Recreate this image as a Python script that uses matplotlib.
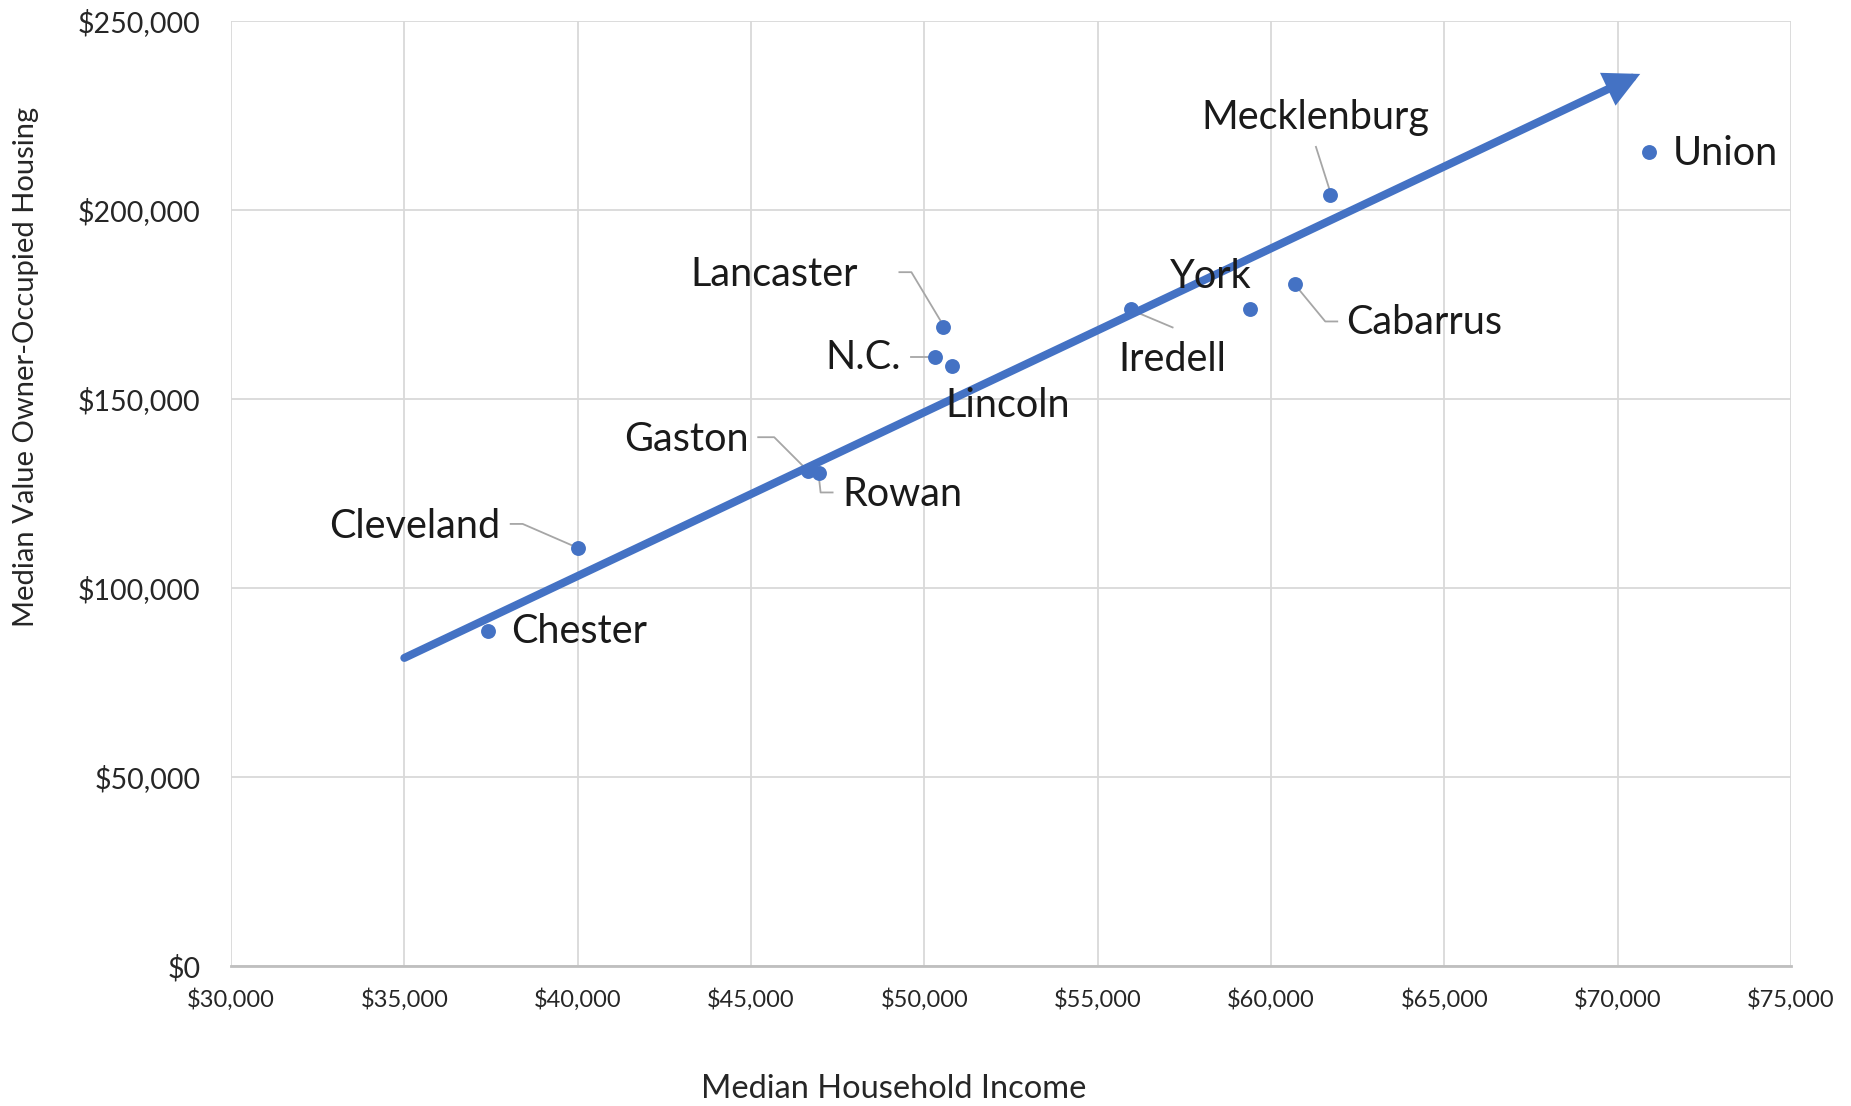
import matplotlib
matplotlib.use("Agg")
import matplotlib.pyplot as plt
import matplotlib.transforms as mtransforms
from matplotlib.ticker import FuncFormatter, MultipleLocator

plt.rcParams['font.family'] = ['Lato', 'DejaVu Sans']

# county data: median household income vs median owner-occupied home value
counties = ['Chester', 'Cleveland', 'Gaston', 'Rowan', 'N.C.', 'Lancaster', 'Lincoln',
            'Iredell', 'York', 'Cabarrus', 'Mecklenburg', 'Union']
income = [37400, 40000, 46650, 46950, 50300, 50550, 50800, 55950, 59400, 60700, 61700, 70900]
home_value = [88700, 110600, 130900, 130300, 161200, 169000, 158700, 173700, 173700, 180300,
              204000, 215300]

# trend arrow ends (income, home value)
trend_start = (35000, 81500)
trend_end = (70650, 236000)

blue = '#4472C4'
leader_grey = '#A6A6A6'
text_col = '#262626'

# label placement in pixels relative to each point: (dx, dy, ha, leader vertices)
label_style = {
    'Mecklenburg': (-15, 77, 'center', [(-14, 48), (0, 4)]),
    'Union': (24, -1, 'left', None),
    'Lancaster': (-86, 53, 'right', [(-44, 55), (-32, 55), (-2, 5)]),
    'York': (-39, 33, 'center', None),
    'Cabarrus': (51, -38, 'left', [(2, -3), (30, -37), (42, -37)]),
    'Iredell': (42, -50, 'center', [(4, -2), (42, -18)]),
    'N.C.': (-34, -1, 'right', [(-24, 0), (-4, 0)]),
    'Lincoln': (-7, -39, 'left', None),
    'Gaston': (-59, 32, 'right', [(-50, 34), (-34, 34), (-2, 2)]),
    'Rowan': (24, -21, 'left', [(0, -1), (2, -19), (14, -19)]),
    'Cleveland': (-77, 21, 'right', [(-67, 24), (-55, 24), (-2, 1)]),
    'Chester': (24, -1, 'left', None),
}

fig = plt.figure(figsize=(18.51, 11.06), dpi=100)
ax = fig.add_axes([231 / 1851, 1 - 966 / 1106, 1560 / 1851, 945 / 1106])

ax.set_xlim(30000, 75000)
ax.set_ylim(0, 250000)
ax.xaxis.set_major_locator(MultipleLocator(5000))
ax.yaxis.set_major_locator(MultipleLocator(50000))
money = FuncFormatter(lambda v, p: '${:,.0f}'.format(v))
ax.xaxis.set_major_formatter(money)
ax.yaxis.set_major_formatter(money)

ax.grid(True, color='#D9D9D9', lw=1.3)
ax.set_axisbelow(True)
for s in ['left', 'right', 'top']:
    ax.spines[s].set_visible(False)
ax.spines['bottom'].set_color('#BFBFBF')
ax.spines['bottom'].set_linewidth(2)
ax.tick_params(length=0)
ax.tick_params(axis='y', labelsize=20.5, pad=22, colors=text_col)
ax.tick_params(axis='x', labelsize=17, pad=16, colors=text_col)

fig.text(757 / 1568, 1 - 923 / 937, 'Median Household Income', fontsize=23.5,
         color=text_col, ha='center', va='center')
fig.text(22 / 1568, 1 - 311 / 937, 'Median Value Owner-Occupied Housing', fontsize=21,
         color=text_col, ha='center', va='center', rotation=90)

ax.scatter(income, home_value, s=115, color=blue, zorder=3, linewidths=0)

ax.annotate('', xy=trend_end, xytext=trend_start,
            arrowprops=dict(arrowstyle='-|>,head_length=0.75,head_width=0.38',
                            lw=5.8, color=blue, shrinkA=0, shrinkB=0,
                            mutation_scale=22, joinstyle='miter'),
            zorder=4)

for name, x, y in zip(counties, income, home_value):
    dx, dy, ha, leader = label_style[name]
    t = mtransforms.Affine2D() + mtransforms.ScaledTranslation(x, y, ax.transData)
    if leader:
        ax.plot([p[0] for p in leader], [p[1] for p in leader], transform=t,
                color=leader_grey, lw=1.3, zorder=2)
    ax.text(dx, dy, name, transform=t, ha=ha, va='center', fontsize=28.5,
            color='#1a1a1a', zorder=5)

fig.savefig('out.png', dpi=100)
